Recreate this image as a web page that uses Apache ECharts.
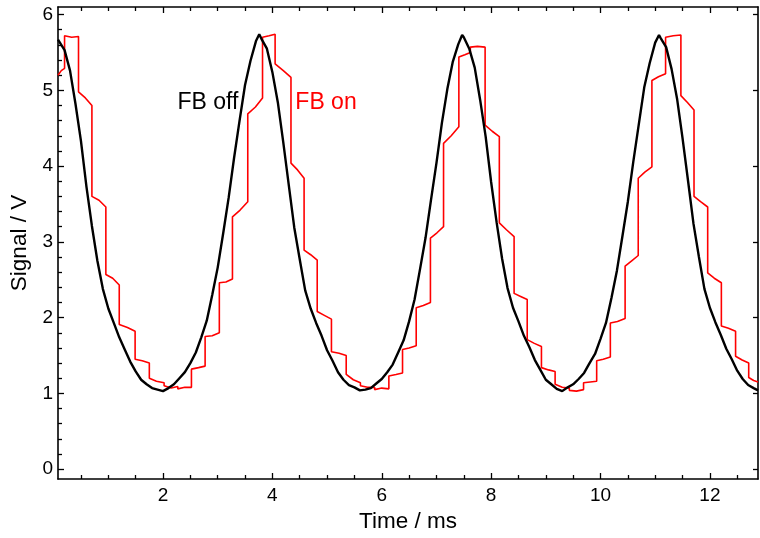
<!DOCTYPE html>
<html>
<head>
<meta charset="utf-8">
<script src="https://cdn.jsdelivr.net/npm/echarts@6/dist/echarts.min.js"></script>
<style>
html, body { margin: 0; padding: 0; background: #fff; }
#chart { width: 760px; height: 538px; }
</style>
</head>
<body>
<div id="chart"></div>
<script>
// FB off trace (black), time in ms / signal in V
const offTime = [0.08, 0.1, 0.2, 0.3, 0.4, 0.5, 0.6, 0.7, 0.8, 0.9, 1.0, 1.1, 1.2, 1.3, 1.4, 1.5, 1.6, 1.7, 1.8, 1.9,
  2.0, 2.1, 2.2, 2.3, 2.4, 2.5, 2.6, 2.7, 2.8, 2.9, 3.0, 3.1, 3.2, 3.3, 3.4, 3.5, 3.6, 3.7, 3.76, 3.8, 3.9,
  4.0, 4.1, 4.2, 4.3, 4.4, 4.5, 4.6, 4.7, 4.8, 4.9, 5.0, 5.1, 5.2, 5.3, 5.4, 5.5, 5.6, 5.7, 5.8, 5.9,
  6.0, 6.1, 6.2, 6.3, 6.4, 6.5, 6.6, 6.7, 6.8, 6.9, 7.0, 7.1, 7.2, 7.3, 7.4, 7.47, 7.5, 7.6, 7.7, 7.8, 7.9,
  8.0, 8.1, 8.2, 8.3, 8.4, 8.5, 8.6, 8.7, 8.8, 8.9, 9.0, 9.1, 9.2, 9.3, 9.4, 9.5, 9.6, 9.7, 9.8, 9.9,
  10.0, 10.1, 10.2, 10.3, 10.4, 10.5, 10.6, 10.7, 10.8, 10.9, 11.0, 11.07, 11.1, 11.2, 11.3, 11.4, 11.5, 11.6, 11.7, 11.8, 11.9,
  12.0, 12.1, 12.2, 12.3, 12.4, 12.5, 12.6, 12.7, 12.8, 12.88];
const offSignal = [5.67, 5.69, 5.53, 5.26, 4.82, 4.33, 3.73, 3.21, 2.75, 2.38, 2.12, 1.93, 1.74, 1.58, 1.42, 1.29, 1.18, 1.12, 1.07, 1.05,
  1.03, 1.07, 1.12, 1.20, 1.28, 1.40, 1.54, 1.74, 1.96, 2.30, 2.66, 3.11, 3.58, 4.11, 4.60, 5.07, 5.39, 5.65, 5.74, 5.68, 5.55,
  5.24, 4.84, 4.31, 3.75, 3.19, 2.77, 2.36, 2.12, 1.93, 1.76, 1.57, 1.43, 1.28, 1.18, 1.11, 1.08, 1.04, 1.05, 1.07, 1.13,
  1.19, 1.28, 1.38, 1.54, 1.70, 1.95, 2.24, 2.64, 3.05, 3.55, 4.04, 4.57, 5.02, 5.38, 5.61, 5.73, 5.70, 5.55, 5.30, 4.87, 4.39,
  3.79, 3.26, 2.78, 2.39, 2.13, 1.95, 1.76, 1.61, 1.44, 1.31, 1.18, 1.12, 1.06, 1.03, 1.08, 1.12, 1.19, 1.27, 1.40, 1.52,
  1.72, 1.93, 2.26, 2.62, 3.07, 3.53, 4.06, 4.55, 5.04, 5.36, 5.63, 5.73, 5.69, 5.57, 5.28, 4.89, 4.37, 3.81, 3.24, 2.80, 2.38,
  2.13, 1.94, 1.77, 1.59, 1.45, 1.30, 1.19, 1.11, 1.07, 1.04];

// FB on trace (red), stepped
const onTime = [0.08, 0.14, 0.2, 0.2, 0.33, 0.455, 0.455, 0.58, 0.70, 0.70, 0.83, 0.955, 0.955, 1.08, 1.2, 1.2, 1.35, 1.49,
  1.49, 1.62, 1.75, 1.75, 1.88, 2.02, 2.02, 2.15, 2.27, 2.27, 2.40, 2.52, 2.52, 2.65, 2.77, 2.77, 2.90, 3.03,
  3.03, 3.15, 3.27, 3.27, 3.41, 3.55, 3.55, 3.69, 3.82, 3.82, 3.94, 4.05, 4.05, 4.2, 4.34, 4.34, 4.46, 4.58,
  4.58, 4.70, 4.82, 4.82, 4.95, 5.08, 5.08, 5.22, 5.35, 5.35, 5.48, 5.61, 5.61, 5.74, 5.87, 5.87, 6.0, 6.13,
  6.13, 6.26, 6.38, 6.38, 6.50, 6.63, 6.63, 6.76, 6.89, 6.89, 7.01, 7.13, 7.13, 7.27, 7.41, 7.41, 7.52, 7.62,
  7.62, 7.75, 7.89, 7.89, 8.02, 8.15, 8.15, 8.28, 8.42, 8.42, 8.54, 8.66, 8.66, 8.79, 8.92, 8.92, 9.05, 9.17,
  9.17, 9.30, 9.43, 9.43, 9.56, 9.69, 9.69, 9.81, 9.93, 9.93, 10.05, 10.18, 10.18, 10.31, 10.45, 10.45, 10.57, 10.69,
  10.69, 10.81, 10.94, 10.94, 11.06, 11.19, 11.19, 11.33, 11.47, 11.47, 11.59, 11.71, 11.71, 11.83, 11.96,
  11.96, 12.08, 12.21, 12.21, 12.34, 12.47, 12.47, 12.59, 12.71, 12.71, 12.80, 12.88];
const onSignal = [5.20, 5.26, 5.29, 5.72, 5.70, 5.71, 4.98, 4.90, 4.80, 3.60, 3.55, 3.46, 2.57, 2.52, 2.43, 1.91, 1.87, 1.82,
  1.45, 1.43, 1.40, 1.20, 1.16, 1.14, 1.10, 1.07, 1.09, 1.06, 1.08, 1.08, 1.32, 1.34, 1.36, 1.75, 1.76, 1.80,
  2.46, 2.47, 2.51, 3.33, 3.42, 3.53, 4.69, 4.78, 4.90, 5.70, 5.72, 5.74, 5.35, 5.26, 5.17, 4.04, 3.95, 3.84,
  2.89, 2.83, 2.76, 2.08, 2.03, 1.98, 1.55, 1.53, 1.50, 1.25, 1.18, 1.14, 1.10, 1.08, 1.08, 1.05, 1.07, 1.06,
  1.23, 1.25, 1.27, 1.58, 1.60, 1.63, 2.13, 2.16, 2.20, 3.05, 3.12, 3.20, 4.30, 4.40, 4.52, 5.44, 5.47, 5.50,
  5.57, 5.58, 5.57, 4.54, 4.46, 4.39, 3.25, 3.16, 3.07, 2.32, 2.28, 2.24, 1.71, 1.66, 1.62, 1.34, 1.31, 1.29,
  1.12, 1.08, 1.07, 1.04, 1.03, 1.05, 1.14, 1.15, 1.16, 1.43, 1.45, 1.48, 1.93, 1.95, 1.99, 2.68, 2.75, 2.82,
  3.84, 3.92, 3.99, 5.13, 5.18, 5.22, 5.70, 5.72, 5.73, 4.93, 4.84, 4.74, 3.60, 3.53, 3.46,
  2.59, 2.52, 2.46, 1.89, 1.86, 1.82, 1.49, 1.44, 1.40, 1.21, 1.17, 1.15];

// tick positions
const xMajor = [2, 4, 6, 8, 10, 12];
const xMinor = [0.5, 1, 1.5, 2.5, 3, 3.5, 4.5, 5, 5.5, 6.5, 7, 7.5, 8.5, 9, 9.5, 10.5, 11, 11.5, 12.5];
const yMajor = [0, 1, 2, 3, 4, 5, 6];
const yMinor = [0.2, 0.4, 0.6, 0.8, 1.2, 1.4, 1.6, 1.8, 2.2, 2.4, 2.6, 2.8, 3.2, 3.4, 3.6, 3.8,
  4.2, 4.4, 4.6, 4.8, 5.2, 5.4, 5.6, 5.8];

const X_MIN = 0.08, X_MAX = 12.88, Y_MIN = -0.13, Y_MAX = 6.1;
const FONT = 'Liberation Sans, Arial, sans-serif';

function pairs(xs, ys) {
  return xs.map((x, i) => [x, ys[i]]);
}

function xAx(pos, ticks, len, withLabels, withLine) {
  return {
    type: 'value', position: pos, min: X_MIN, max: X_MAX,
    axisLine: { show: withLine, onZero: false, lineStyle: { color: '#000', width: 1.6 } },
    axisTick: { show: true, inside: true, length: len, customValues: ticks, lineStyle: { color: '#000', width: 1.3 } },
    axisLabel: withLabels ? { show: true, customValues: ticks, margin: 7, color: '#000', fontSize: 19, fontFamily: FONT } : { show: false },
    splitLine: { show: false }
  };
}

function yAx(pos, ticks, len, withLabels, withLine) {
  return {
    type: 'value', position: pos, min: Y_MIN, max: Y_MAX,
    axisLine: { show: withLine, onZero: false, lineStyle: { color: '#000', width: 1.6 } },
    axisTick: { show: true, inside: true, length: len, customValues: ticks, lineStyle: { color: '#000', width: 1.3 } },
    axisLabel: withLabels ? { show: true, customValues: ticks, margin: 5, color: '#000', fontSize: 19, fontFamily: FONT } : { show: false },
    splitLine: { show: false }
  };
}

var myChart = echarts.init(document.getElementById('chart'));

var xMain = xAx('bottom', xMajor, 6, true, true);
xMain.name = 'Time / ms';
xMain.nameLocation = 'middle';
xMain.nameGap = 31;
xMain.nameTextStyle = { color: '#000', fontSize: 22.5, fontFamily: FONT };

var yMain = yAx('left', yMajor, 6, true, true);
yMain.name = 'Signal / V';
yMain.nameLocation = 'middle';
yMain.nameGap = 27;
yMain.nameTextStyle = { color: '#000', fontSize: 22.5, fontFamily: FONT };

var option = {
  animation: false,
  backgroundColor: '#fff',
  grid: { left: 57, right: 2, top: 7, bottom: 58, containLabel: false },
  xAxis: [
    xMain,
    xAx('bottom', xMinor, 4, false, false),
    xAx('top', xMajor, 6, false, true),
    xAx('top', xMinor, 4, false, false)
  ],
  yAxis: [
    yMain,
    yAx('left', yMinor, 4, false, false),
    yAx('right', yMajor, 5, false, true)
  ],
  series: [
    {
      name: 'FB on',
      type: 'line',
      data: pairs(onTime, onSignal),
      showSymbol: false,
      lineStyle: { color: '#ff0000', width: 1.6 },
      z: 2,
      markPoint: {
        symbol: 'circle', symbolSize: 0, silent: true,
        data: [{ coord: [4.42, 4.84], label: { show: true, position: 'right', distance: 0, formatter: 'FB on', color: '#ff0000', fontSize: 23, fontFamily: FONT } }]
      }
    },
    {
      name: 'FB off',
      type: 'line',
      data: pairs(offTime, offSignal),
      showSymbol: false,
      lineStyle: { color: '#000', width: 2.4 },
      z: 3,
      markPoint: {
        symbol: 'circle', symbolSize: 0, silent: true,
        data: [{ coord: [3.38, 4.84], label: { show: true, position: 'left', distance: 0, formatter: 'FB off', color: '#000', fontSize: 23, fontFamily: FONT } }]
      }
    }
  ]
};
myChart.setOption(option);
</script>
</body>
</html>
